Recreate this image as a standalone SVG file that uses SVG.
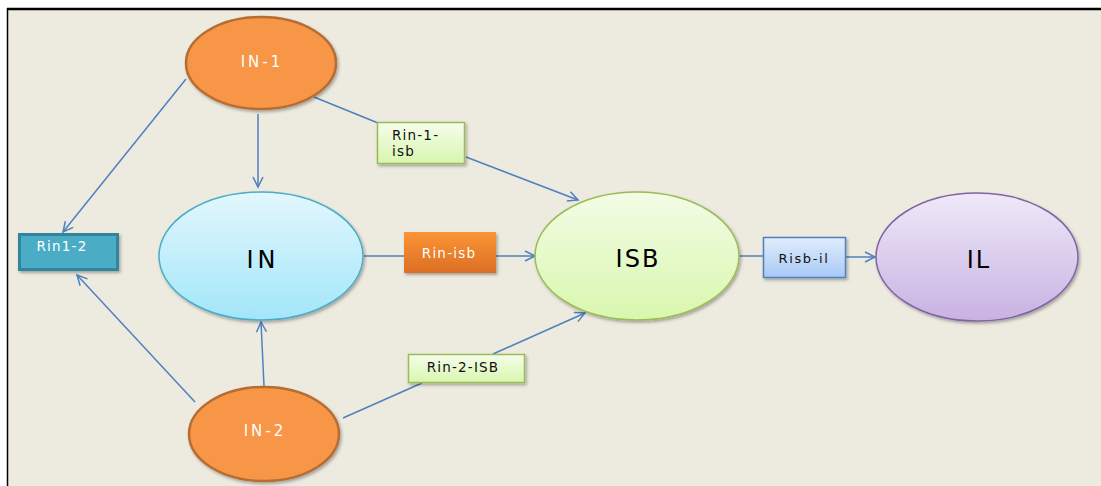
<svg xmlns="http://www.w3.org/2000/svg" width="1101" height="486" viewBox="0 0 1101 486">
<defs>
<style>
.conn{stroke:#4F81BD;stroke-width:1.5;fill:none}
.lbl{font-family:"DejaVu Sans","Liberation Sans",sans-serif}
.small{font-size:13.5px;letter-spacing:1.2px}
.big{font-size:24px;fill:#000}
.wt{fill:#FFFFFF}
.bk{fill:#111111}
</style>
<marker id="arr" markerUnits="userSpaceOnUse" markerWidth="14" markerHeight="14" refX="11" refY="6" orient="auto">
<path d="M1,1 L11,6 L1,11" fill="none" stroke="#4F81BD" stroke-width="1.5"/>
</marker>
<linearGradient id="gIN" x1="0" y1="0" x2="0" y2="1"><stop offset="0" stop-color="#E2F7FD"/><stop offset="1" stop-color="#A2E6F9"/></linearGradient>
<linearGradient id="gISB" x1="0" y1="0" x2="0" y2="1"><stop offset="0" stop-color="#F3FCE6"/><stop offset="1" stop-color="#D9F7AE"/></linearGradient>
<linearGradient id="gIL" x1="0" y1="0" x2="0" y2="1"><stop offset="0" stop-color="#EFE9F8"/><stop offset="1" stop-color="#C8B2E2"/></linearGradient>
<linearGradient id="gGreen" x1="0" y1="0" x2="0" y2="1"><stop offset="0" stop-color="#F5FDEB"/><stop offset="1" stop-color="#D8F6AE"/></linearGradient>
<linearGradient id="gOrange" x1="0" y1="0" x2="0" y2="1"><stop offset="0" stop-color="#FA9535"/><stop offset="1" stop-color="#DC6E25"/></linearGradient>
<linearGradient id="gBlue" x1="0" y1="0" x2="0" y2="1"><stop offset="0" stop-color="#E1EDFD"/><stop offset="1" stop-color="#A8C9F5"/></linearGradient>
<filter id="sh" x="-10%" y="-10%" width="130%" height="130%">
<feDropShadow dx="1.5" dy="2" stdDeviation="1.5" flood-color="#000" flood-opacity="0.3"/>
</filter>
</defs>
<rect x="0" y="0" width="1101" height="486" fill="#FFFFFF"/>
<rect x="7" y="9" width="1094" height="477" fill="#EDEAE0"/>
<line x1="7" y1="9" x2="1101" y2="9" stroke="#000" stroke-width="2.5"/>
<line x1="7.5" y1="8" x2="7.5" y2="486" stroke="#000" stroke-width="1.5"/>

<g id="connectors">
<line class="conn" x1="186" y1="79" x2="63" y2="232" marker-end="url(#arr)"/>
<line class="conn" x1="258" y1="114" x2="258" y2="187" marker-end="url(#arr)"/>
<line class="conn" x1="195" y1="402" x2="77" y2="275" marker-end="url(#arr)"/>
<line class="conn" x1="264" y1="386" x2="261" y2="322" marker-end="url(#arr)"/>
<line class="conn" x1="343" y1="418" x2="422" y2="383"/>
<line class="conn" x1="493" y1="354" x2="585" y2="313" marker-end="url(#arr)"/>
<line class="conn" x1="314" y1="97" x2="378" y2="123"/>
<line class="conn" x1="466" y1="157" x2="578" y2="200" marker-end="url(#arr)"/>
<line class="conn" x1="364" y1="256" x2="404" y2="256"/>
<line class="conn" x1="496" y1="256" x2="535" y2="256" marker-end="url(#arr)"/>
<line class="conn" x1="739" y1="256" x2="763" y2="256"/>
<line class="conn" x1="846" y1="257" x2="875" y2="257" marker-end="url(#arr)"/>
</g>

<g id="node-IN-1">
<ellipse cx="261" cy="63" rx="75" ry="46" fill="#F79646" stroke="#B66D31" stroke-width="2.5" filter="url(#sh)"/>
<text class="lbl wt" x="262" y="67" font-size="15" text-anchor="middle" letter-spacing="3">IN-1</text>
</g>

<g id="node-IN">
<ellipse cx="261" cy="256" rx="102" ry="64" fill="url(#gIN)" stroke="#4BACC6" stroke-width="1.5" filter="url(#sh)"/>
<text class="lbl big" x="263" y="268" text-anchor="middle" letter-spacing="4">IN</text>
</g>

<g id="node-IN-2">
<ellipse cx="264" cy="434" rx="75" ry="47" fill="#F79646" stroke="#B66D31" stroke-width="2.5" filter="url(#sh)"/>
<text class="lbl wt" x="265" y="436" font-size="15" text-anchor="middle" letter-spacing="3">IN-2</text>
</g>

<g id="node-ISB">
<ellipse cx="637" cy="256" rx="102" ry="64" fill="url(#gISB)" stroke="#9BBB59" stroke-width="1.5" filter="url(#sh)"/>
<text class="lbl big" x="638" y="267" text-anchor="middle" letter-spacing="2">ISB</text>
</g>

<g id="node-IL">
<ellipse cx="977" cy="257" rx="101" ry="64" fill="url(#gIL)" stroke="#8064A2" stroke-width="1.5" filter="url(#sh)"/>
<text class="lbl big" x="979" y="268" text-anchor="middle" letter-spacing="2">IL</text>
</g>

<g id="node-Rin1-2">
<rect x="19.5" y="234.5" width="98" height="35" fill="#4BACC6" stroke="#31859C" stroke-width="3" filter="url(#sh)"/>
<text class="lbl wt small" x="62" y="251" text-anchor="middle" letter-spacing="1.8">Rin1-2</text>
</g>

<g id="node-Rin-1-isb">
<rect x="377.5" y="122.5" width="87" height="41" fill="url(#gGreen)" stroke="#9BBB59" stroke-width="1.5" filter="url(#sh)"/>
<text class="lbl bk small" x="392" y="140">Rin-1-</text>
<text class="lbl bk small" x="392" y="156">isb</text>
</g>

<g id="node-Rin-isb">
<rect x="404" y="232" width="92" height="41" fill="url(#gOrange)" filter="url(#sh)"/>
<text class="lbl wt small" x="449" y="258" text-anchor="middle" letter-spacing="1.5">Rin-isb</text>
</g>

<g id="node-Risb-il">
<rect x="763.5" y="237.5" width="82" height="40" fill="url(#gBlue)" stroke="#4F81BD" stroke-width="1.5" filter="url(#sh)"/>
<text class="lbl bk" x="804" y="263" font-size="13" text-anchor="middle" letter-spacing="1.6">Risb-il</text>
</g>

<g id="node-Rin-2-ISB">
<rect x="408.5" y="354.5" width="116" height="28" fill="url(#gGreen)" stroke="#9BBB59" stroke-width="1.5" filter="url(#sh)"/>
<text class="lbl bk small" x="463" y="372" text-anchor="middle">Rin-2-ISB</text>
</g>
</svg>
